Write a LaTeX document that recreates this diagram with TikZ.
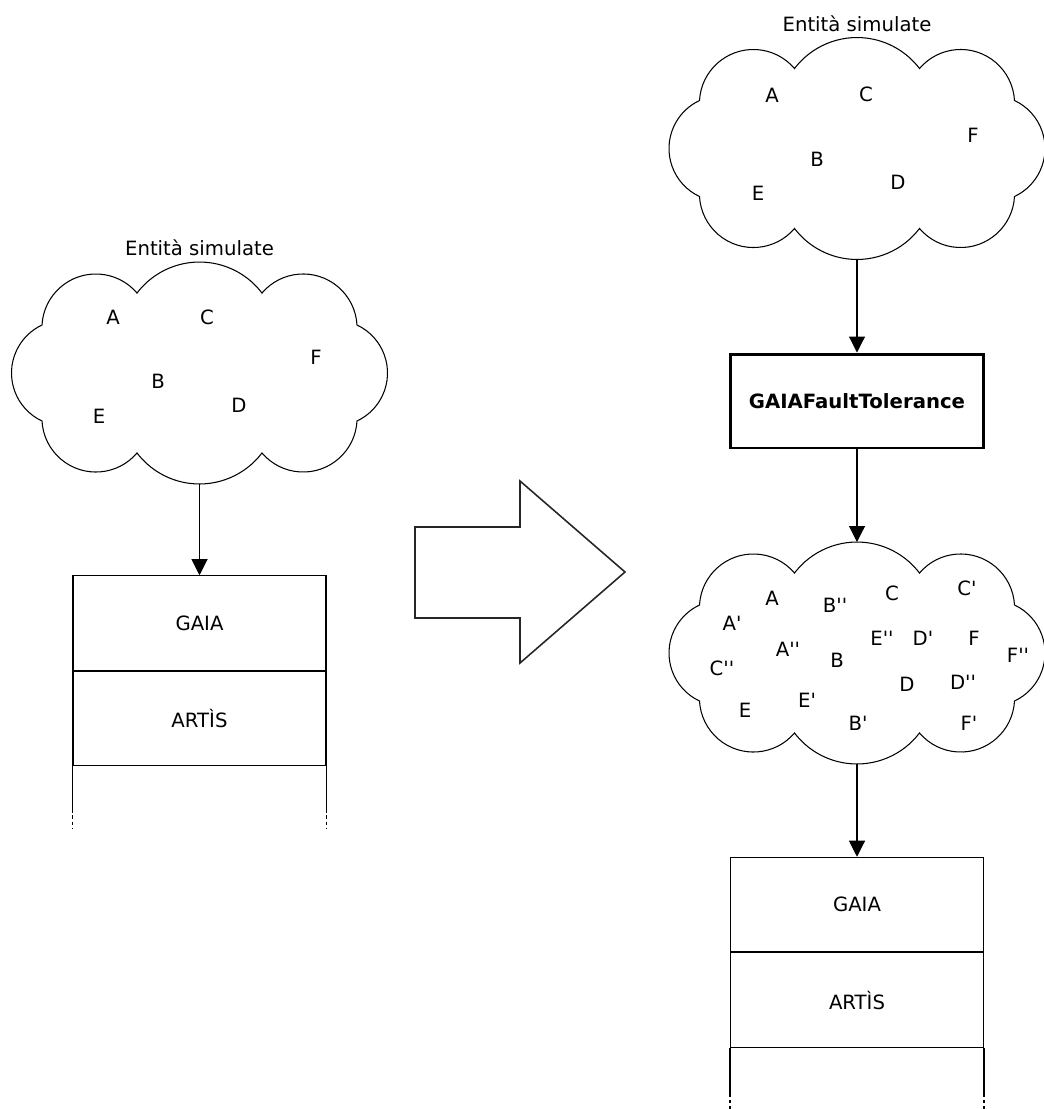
\documentclass[tikz,border=0pt]{standalone}
\usepackage{fontspec}
\setmainfont{DejaVu Sans}[Ligatures=TeXOff]
\usetikzlibrary{arrows.meta,positioning}

\begin{document}
\begin{tikzpicture}[x=0.02cm,y=-0.02cm,font=\fontsize{11.2}{13.4}\selectfont,
  flow/.style={-{Triangle[length=3.2mm,width=3.2mm]},line width=0.6pt},
  layer/.style={draw,line width=0.6pt,minimum width=5.06cm,minimum height=1.89cm,inner sep=0pt},
  puffcloud/.pic={
    \draw[line width=0.6pt] (-157.5,-48) arc[start angle=183.1,end angle=319.7,radius=53.94]
      arc[start angle=217.23,end angle=322.77,radius=78.5]
      arc[start angle=220.3,end angle=356.9,radius=53.94]
      arc[start angle=295.13,end angle=424.87,radius=53.02]
      arc[start angle=3.1,end angle=139.7,radius=53.94]
      arc[start angle=37.23,end angle=142.77,radius=78.5]
      arc[start angle=40.3,end angle=176.9,radius=53.94]
      arc[start angle=115.13,end angle=244.87,radius=53.02] -- cycle;
    \node[minimum width=7.52cm,minimum height=4.44cm,inner sep=0pt,outer sep=0pt] (-box) at (0,0) {};
  }]
  \useasboundingbox (0,0) rectangle (1044,1109);

  \pic (cL) at (199.5,373) {puffcloud};
  \node (titleL) [above=0pt of cL-box] {Entità simulate};
  \foreach \lab/\xx/\yy [count=\i] in {A/113/317,C/207/317,F/316/357,B/158/381,D/239/405,E/99/416}
    \node (eL\i) at (\xx,\yy) {\lab};
  \node[layer] (gaiaL) at (199.5,623) {GAIA};
  \node[layer,below=0pt of gaiaL] (artisL) {ARTÌS};
  \foreach \side in {south west,south east}{
    \draw[line width=0.6pt] (artisL.\side) -- ++(0,43);
    \draw[line width=0.6pt,dash pattern=on 2pt off 1.5pt] (artisL.\side) ++(0,43) -- ++(0,19);
  }
  \draw[flow] (cL-box) -- (gaiaL);

  \draw[line width=0.9pt,black!85] (415,527) -- (520,527) -- (520,481) -- (625,572) -- (520,663) -- (520,618) -- (415,618) -- cycle;

  \pic (cR) at (857,148.5) {puffcloud};
  \node (titleR) [above=0pt of cR-box] {Entità simulate};
  \foreach \lab/\xx/\yy [count=\i] in {A/772/95,C/866/94,F/973/135,B/817/159,D/898/182,E/758/193}
    \node (eR\i) at (\xx,\yy) {\lab};
  \node[draw,line width=1.7pt,minimum width=5.06cm,minimum height=1.88cm,inner sep=0pt,font=\fontsize{11.2}{13.4}\selectfont\bfseries] (ft) at (857,401) {GAIAFaultTolerance};
  \pic (cM) at (857,653) {puffcloud};
  \foreach \lab/\xx/\yy [count=\i] in {A/772/598,B''/835/605,C/892/593,C'/967/588,A'/732/623,E''/882/638,D'/923/638,F/974/638,F''/1018/655,
      A''/788/649,B/837/660,C''/722/668,D/907/684,D''/963/682,E/745/710,E'/807/700,B'/858/723,F'/969/723}
    \node (eM\i) at (\xx,\yy) {\lab};
  \node[layer] (gaiaR) at (857,904.5) {GAIA};
  \node[layer,below=0pt of gaiaR] (artisR) {ARTÌS};
  \foreach \side in {south west,south east}{
    \draw[line width=0.6pt] (artisR.\side) -- ++(0,46);
    \draw[line width=0.6pt,dash pattern=on 2pt off 1.5pt] (artisR.\side) ++(0,46) -- ++(0,15);
  }
  \draw[flow] (cR-box) -- (ft);
  \draw[flow] (ft) -- (cM-box);
  \draw[flow] (cM-box) -- (gaiaR);
\end{tikzpicture}
\end{document}
